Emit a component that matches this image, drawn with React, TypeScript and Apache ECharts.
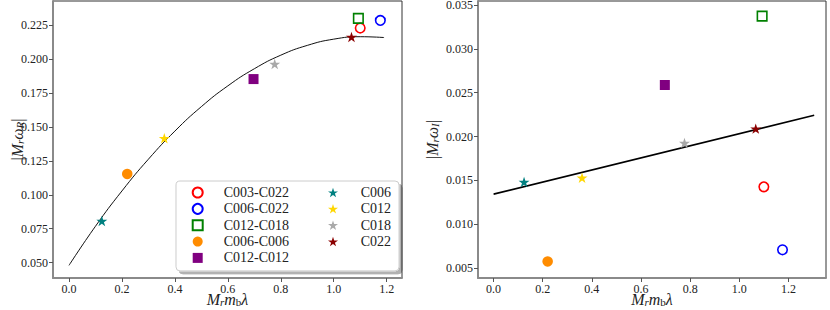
import React, { useEffect, useRef } from "react";
import * as echarts from "echarts";

const seriesNames = ["C003-C022", "C006-C022", "C012-C018", "C006-C006", "C012-C012", "C006", "C012", "C018", "C022"];
const mrmbLambda = [1.1, 1.176, 1.093, 0.22, 0.697, 0.124, 0.36, 0.777, 1.067];
const omegaR = [0.2228, 0.2284, 0.2299, 0.1153, 0.1852, 0.0807, 0.1416, 0.1963, 0.2162];
const omegaI = [0.01426, 0.00708, 0.03374, 0.00575, 0.02588, 0.0148, 0.01529, 0.01927, 0.0209];

const fitRX = [0, 0.1, 0.2, 0.3, 0.4, 0.5, 0.6, 0.7, 0.8, 0.9, 1.0, 1.1, 1.19];
const fitRY = [0.048, 0.0768, 0.1028, 0.1262, 0.1469, 0.1649, 0.1802, 0.1928, 0.2028, 0.21, 0.2146, 0.2164, 0.2158];
const fitIX = [0, 1.305];
const fitIY = [0.01343, 0.02243];

const xTicks = [0, 0.2, 0.4, 0.6, 0.8, 1.0, 1.2];
const yTicksR = [0.05, 0.075, 0.1, 0.125, 0.15, 0.175, 0.2, 0.225];
const yTicksI = [0.005, 0.01, 0.015, 0.02, 0.025, 0.03, 0.035];

const STAR = "path://M0,-1 L0.2245,-0.309 L0.9511,-0.309 L0.3633,0.118 L0.5878,0.809 L0,0.382 L-0.5878,0.809 L-0.3633,0.118 L-0.9511,-0.309 L-0.2245,-0.309 Z";

const markerStyles = [
  { symbol: "circle", size: 9.5, hollow: true, color: "#ff0000" },
  { symbol: "circle", size: 9.5, hollow: true, color: "#0000ff" },
  { symbol: "rect", size: 9.5, hollow: true, color: "#008000" },
  { symbol: "circle", size: 10.5, hollow: false, color: "#ff8c00" },
  { symbol: "rect", size: 10, hollow: false, color: "#800080" },
  { symbol: STAR, size: 11, hollow: false, color: "#008080" },
  { symbol: STAR, size: 11, hollow: false, color: "#ffd700" },
  { symbol: STAR, size: 11, hollow: false, color: "#a9a9a9" },
  { symbol: STAR, size: 11, hollow: false, color: "#8b0000" },
];

const FONT = "Liberation Serif";

const nameRich = {
  i: { fontStyle: "italic", fontSize: 16, lineHeight: 13, fontFamily: FONT, color: "#222" },
  s: { fontStyle: "italic", fontSize: 11, lineHeight: 13, fontFamily: FONT, color: "#222", padding: [4, 0, 0, 0] },
  u: { fontSize: 11, lineHeight: 13, fontFamily: FONT, color: "#222", padding: [4, 0, 0, 0] },
};

function xAxisCfg(gridIndex: number, min: number, max: number) {
  return {
    type: "value",
    gridIndex,
    min,
    max,
    name: "{i|M}{s|r}{i|m}{u|b}{i|λ}",
    nameLocation: "middle",
    nameGap: 15,
    nameMoveOverlap: false,
    nameTextStyle: { fontFamily: FONT, fontSize: 16, lineHeight: 13, color: "#222", rich: nameRich },
    splitLine: { show: false },
    axisLine: { show: true, onZero: false, lineStyle: { color: "#8a8a8a", width: 2 } },
    axisTick: { show: true, length: 4, customValues: xTicks, lineStyle: { color: "#555", width: 1 } },
    axisLabel: {
      customValues: xTicks,
      formatter: (v: number) => v.toFixed(1),
      fontFamily: FONT,
      fontSize: 12,
      lineHeight: 11,
      color: "#222",
      margin: 5,
    },
  };
}

function yAxisCfg(gridIndex: number, min: number, max: number, ticks: number[], name: string, gap: number) {
  return {
    type: "value",
    gridIndex,
    min,
    max,
    name,
    nameLocation: "middle",
    nameGap: gap,
    nameRotate: 90,
    nameMoveOverlap: false,
    nameTextStyle: { fontFamily: FONT, fontSize: 16, lineHeight: 13, color: "#222", rich: nameRich },
    splitLine: { show: false },
    axisLine: { show: true, onZero: false, lineStyle: { color: "#8a8a8a", width: 2 } },
    axisTick: { show: true, length: 4, customValues: ticks, lineStyle: { color: "#555", width: 1 } },
    axisLabel: {
      customValues: ticks,
      formatter: (v: number) => v.toFixed(3),
      fontFamily: FONT,
      fontSize: 12,
      lineHeight: 10,
      color: "#222",
      margin: 5,
    },
  };
}

export default function App() {
  const ref = useRef<HTMLDivElement>(null);
  useEffect(() => {
    if (!ref.current) return;
    const chart = echarts.init(ref.current, undefined, { renderer: "svg" });

    const scatterSeries: any[] = [];
    [0, 1].forEach((g) => {
      seriesNames.forEach((name, k) => {
        const st = markerStyles[k];
        const yv = g === 0 ? omegaR : omegaI;
        scatterSeries.push({
          type: "scatter",
          name,
          xAxisIndex: g,
          yAxisIndex: g,
          symbol: st.symbol,
          symbolSize: st.size,
          symbolKeepAspect: true,
          z: 5,
          itemStyle: st.hollow
            ? { color: "rgba(255,255,255,0)", borderColor: st.color, borderWidth: 1.6, opacity: 1 }
            : { color: st.color, borderWidth: 0, opacity: 1 },
          data: [[mrmbLambda[k], yv[k]]],
        });
      });
    });

    const legendText = { fontFamily: FONT, fontSize: 14, color: "#222", lineHeight: 16 };

    chart.setOption({
      animation: false,
      backgroundColor: "#fff",
      grid: [
        { left: 53, top: 1, right: 428, bottom: 32, outerBoundsMode: "none", containLabel: false, show: true, borderColor: "#333", borderWidth: 1, backgroundColor: "transparent" },
        { left: 478, top: 1, right: 4, bottom: 32, outerBoundsMode: "none", containLabel: false, show: true, borderColor: "#333", borderWidth: 1, backgroundColor: "transparent" },
      ],
      xAxis: [xAxisCfg(0, -0.0604, 1.2578), xAxisCfg(1, -0.0635, 1.353)],
      yAxis: [
        yAxisCfg(0, 0.0387, 0.2427, yTicksR, "|{i|M}{s|r}{i|ω}{s|R}|", 29),
        yAxisCfg(1, 0.00386, 0.03546, yTicksI, "|{i|M}{s|r}{i|ω}{s|I}|", 39),
      ],
      legend: [
        {
          data: seriesNames.slice(0, 5),
          orient: "vertical",
          left: 176,
          top: 181,
          itemWidth: 10,
          itemHeight: 10,
          itemGap: 0.35,
          padding: [3.5, 110, 5, 15.7],
          backgroundColor: "#fff",
          borderColor: "#cccccc",
          borderWidth: 1,
          borderRadius: 4,
          shadowColor: "rgba(0,0,0,0.3)",
          shadowBlur: 1,
          shadowOffsetX: 3,
          shadowOffsetY: 3,
          selectedMode: false,
          textStyle: { ...legendText, padding: [0, 0, 0, 16] },
          z: 10,
        },
        {
          data: seriesNames.slice(5),
          orient: "vertical",
          left: 328,
          top: 184.5,
          itemWidth: 10,
          itemHeight: 10,
          itemGap: 0.35,
          padding: 0,
          selectedMode: false,
          textStyle: { ...legendText, padding: [0, 0, 0, 17.7] },
          z: 11,
        },
      ],
      series: [
        {
          type: "line",
          xAxisIndex: 0,
          yAxisIndex: 0,
          data: fitRX.map((x, i) => [x, fitRY[i]]),
          smooth: true,
          showSymbol: false,
          lineStyle: { color: "#111", width: 1 },
          z: 2,
        },
        {
          type: "line",
          xAxisIndex: 1,
          yAxisIndex: 1,
          data: fitIX.map((x, i) => [x, fitIY[i]]),
          showSymbol: false,
          lineStyle: { color: "#000", width: 1.6 },
          z: 2,
        },
        ...scatterSeries,
      ],
    });
    return () => chart.dispose();
  }, []);
  return <div ref={ref} style={{ position: "absolute", left: 0, top: 0, width: 830, height: 310 }} />;
}
